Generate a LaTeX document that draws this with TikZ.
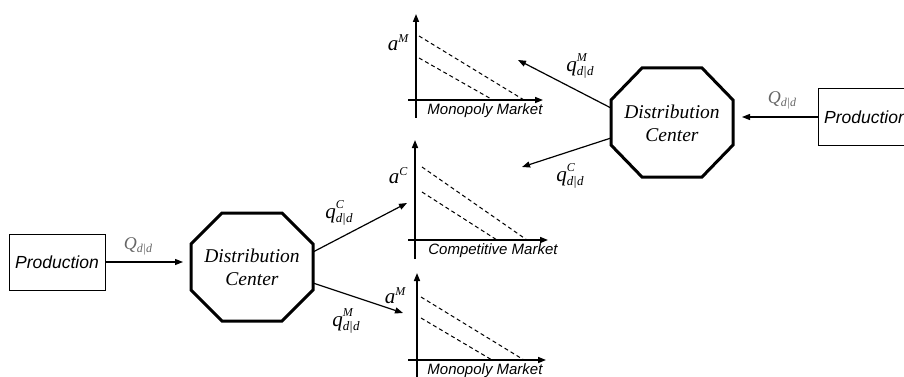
\documentclass[tikz,border=0pt]{standalone}
\usepackage{fontspec}
\setmainfont{Liberation Serif}
\newfontfamily\timesf{Liberation Serif}
\newfontfamily\arialf{Liberation Sans}
\usetikzlibrary{arrows.meta}
\newcommand\qlab[1]{\timesf\itshape\fontsize{21}{24}\selectfont q\makebox[0pt][l]{\raisebox{9.5pt}{\fontsize{12}{12}\selectfont #1}}\raisebox{-4pt}{\fontsize{13}{13}\selectfont d\kern0.5pt\textup{|}\kern0.5pt d}}
\newcommand\Qlab{\timesf\itshape\fontsize{18}{20}\selectfont Q\raisebox{-3pt}{\fontsize{12}{12}\selectfont d\kern0.5pt\textup{|}\kern0.5pt d}}
\newcommand\alab[1]{\timesf\itshape\fontsize{21}{22}\selectfont a\raisebox{8pt}{\fontsize{12}{12}\selectfont #1}}
\begin{document}
\begin{tikzpicture}[x=1pt,y=-1pt,
  prodbox/.style={draw,line width=1pt,minimum width=96pt,minimum height=56pt,inner sep=0pt,font=\arialf\itshape\fontsize{17.5}{20}\selectfont},
  octo/.style={line width=3pt,line join=miter},
  dctext/.style={align=center,font=\timesf\itshape\fontsize{19.5}{23}\selectfont},
  flow/.style={line width=1.2pt,-{Triangle[length=8pt,width=6pt]}},
  axis/.style={line width=1.5pt,-{Triangle[length=8pt,width=6pt]}},
  demand/.style={line width=1pt,dash pattern=on 4pt off 3pt},
  mkt/.style={font=\arialf\itshape\fontsize{15}{17}\selectfont,inner sep=0pt},
  lab/.style={inner sep=0pt,text=black},
  qlabel/.style={inner sep=0pt,text=black!60}]
\useasboundingbox (0,0) rectangle (904,377);

% ---------- left side ----------
\node[prodbox] (p1) at (57,262) {Production};
\draw[octo] (222,213) -- (282,213) -- (313,244) -- (313,290) -- (282,321) -- (222,321) -- (191,290) -- (191,244) -- cycle;
\node[dctext] (dc1) at (252,267) {Distribution\\Center};
\coordinate (dc1in) at (183,262);
\coordinate (dc1a) at (313,252);
\coordinate (dc1b) at (313,283);
\coordinate (c2tip) at (407,203);
\coordinate (c3tip) at (403,313);
\draw[flow] (p1.east) -- (dc1in);
\draw[flow] (dc1a) -- (c2tip);
\draw[flow] (dc1b) -- (c3tip);
\node[qlabel] (Q1) at (138,246) {\Qlab};
\node[lab] (q1c) at (339,213) {\qlab{C}};
\node[lab] (q1m) at (346,321) {\qlab{M}};

% ---------- right side ----------
\node[prodbox] (p2) at (866,117) {Production};
\draw[octo] (642,68) -- (702,68) -- (733,100) -- (733,145) -- (702,177) -- (642,177) -- (611,145) -- (611,100) -- cycle;
\node[dctext] (dc2) at (672,123) {Distribution\\Center};
\coordinate (dc2in) at (742,117);
\coordinate (dc2a) at (611,108);
\coordinate (dc2b) at (611,138);
\coordinate (c1tip) at (518,60);
\coordinate (c2tipb) at (522,167);
\draw[flow] (p2.west) -- (dc2in);
\draw[flow] (dc2a) -- (c1tip);
\draw[flow] (dc2b) -- (c2tipb);
\node[qlabel] (Q2) at (782,100) {\Qlab};
\node[lab] (q2m) at (580,66) {\qlab{M}};
\node[lab] (q2c) at (570,176) {\qlab{C}};

% ---------- chart 1: monopoly (top) ----------
\coordinate (y1b) at (416,118); \coordinate (y1t) at (416,14);
\coordinate (x1l) at (408,100); \coordinate (x1r) at (543,100);
\draw[axis] (y1b) -- (y1t);
\draw[axis] (x1l) -- (x1r);
\coordinate (d1a) at (419,36); \coordinate (d1b) at (524,100);
\coordinate (d1c) at (419,58); \coordinate (d1d) at (493,100);
\draw[demand] (d1a) -- (d1b);
\draw[demand] (d1c) -- (d1d);
\node[lab] (a1) at (398,43) {\alab{M}};
\node[mkt] (m1) at (485,111) {Monopoly Market};

% ---------- chart 2: competitive ----------
\coordinate (y2b) at (415,259); \coordinate (y2t) at (415,140);
\coordinate (x2l) at (408,240); \coordinate (x2r) at (548,240);
\draw[axis] (y2b) -- (y2t);
\draw[axis] (x2l) -- (x2r);
\coordinate (d2a) at (422,167); \coordinate (d2b) at (527,240);
\coordinate (d2c) at (422,192); \coordinate (d2d) at (497,240);
\draw[demand] (d2a) -- (d2b);
\draw[demand] (d2c) -- (d2d);
\node[lab] (a2) at (398,176) {\alab{C}};
\node[mkt] (m2) at (493,251) {Competitive Market};

% ---------- chart 3: monopoly (bottom) ----------
\coordinate (y3b) at (417,385); \coordinate (y3t) at (417,273);
\coordinate (x3l) at (408,360); \coordinate (x3r) at (546,360);
\draw[axis] (y3b) -- (y3t);
\draw[axis] (x3l) -- (x3r);
\coordinate (d3a) at (421,297); \coordinate (d3b) at (524,360);
\coordinate (d3c) at (421,318); \coordinate (d3d) at (492,360);
\draw[demand] (d3a) -- (d3b);
\draw[demand] (d3c) -- (d3d);
\node[lab] (a3) at (395,296) {\alab{M}};
\node[mkt] (m3) at (485,371) {Monopoly Market};
\end{tikzpicture}
\end{document}
